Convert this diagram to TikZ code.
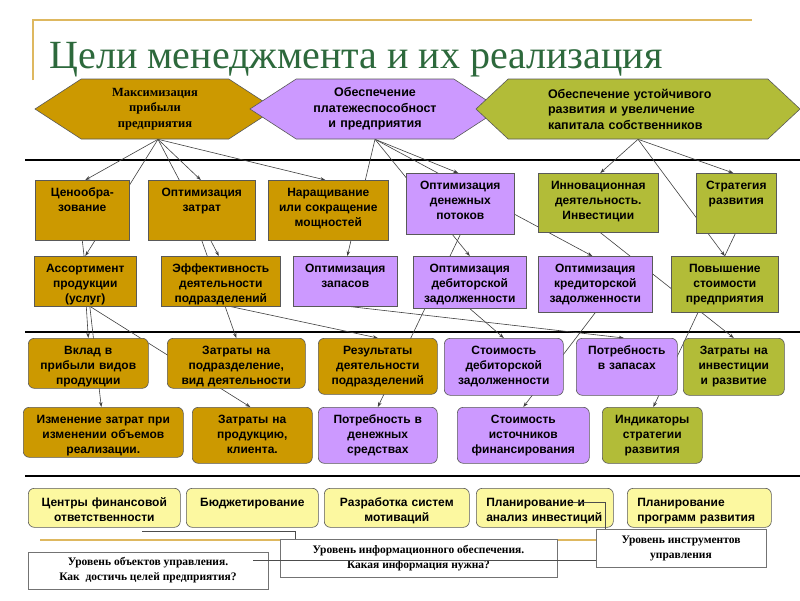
\documentclass[tikz,border=0pt]{standalone}
\usepackage{fontspec}
\setmainfont{Liberation Sans}
\newfontfamily\serifru{Liberation Serif}
\usetikzlibrary{shapes.symbols,arrows.meta}
\definecolor{goldc}{RGB}{204,153,0}
\definecolor{lilacc}{RGB}{204,153,255}
\definecolor{olivec}{RGB}{178,188,56}
\definecolor{palec}{RGB}{252,248,160}
\definecolor{titlec}{RGB}{45,105,60}
\definecolor{tanc}{RGB}{222,184,96}
\pgfdeclarelayer{bg}
\pgfsetlayers{bg,main}

\begin{document}
\begin{tikzpicture}[x=1pt,y=-1pt,
box/.style={draw=black!65, line width=0.6pt, anchor=north west, inner xsep=2pt, inner ysep=4pt, align=center, text height=12pt, font=\bfseries\fontsize{12}{15}\selectfont},
bx/.style 2 args={text width=#1, text depth=#2},
gbox/.style={box, fill=goldc},
pbox/.style={box, fill=lilacc},
obox/.style={box, fill=olivec},
rnd/.style={rounded corners=6pt},
ybox/.style={box, rnd, fill=palec, text height=14pt},
hexa/.style={shape=signal, signal to=east and west, draw=black!65, line width=0.6pt, minimum height=60pt, align=center, font=\bfseries\fontsize{12.5}{15.5}\selectfont},
link/.style={draw=black!75, line width=0.6pt, -{Stealth[length=5pt,width=3.5pt]}},
divider/.style={line width=1.2pt},
note/.style={draw=black!55, line width=0.8pt, fill=white, align=center, font=\serifru\bfseries\fontsize{11.5}{15}\selectfont},
lead/.style={draw=black!70, line width=0.6pt}]
\begin{pgfonlayer}{bg}
\fill[white] (0,0) rectangle (800,600);
\end{pgfonlayer}
\useasboundingbox (0,0) rectangle (800,600);

% title
\draw[tanc, line width=1.5pt] (33,80) -- (33,20) -- (752,20);
\node[anchor=base west, text=titlec, font=\serifru\fontsize{40}{40}\selectfont] (title) at (46,68) {Цели менеджмента и их реализация};

% goals
\node[hexa, fill=goldc, signal pointer angle=66, minimum width=240pt, text width=120pt, font=\serifru\bfseries\fontsize{12.5}{15.5}\selectfont] (h1) at (155,109) {Максимизация\\прибыли\\предприятия};
\node[hexa, fill=lilacc, signal pointer angle=66, minimum width=250pt, text width=130pt] (h2) at (375,109) {Обеспечение\\платежеспособност\\и предприятия};
\node[hexa, fill=olivec, signal pointer angle=86, minimum width=324pt, text width=180pt, align=left] (h3) at (638,109) {Обеспечение устойчивого\\развития и увеличение\\капитала собственников};

% row 1
\node[gbox, bx={90pt}{40pt}] (r1a) at (35,180) {Ценообра-\\зование};
\node[gbox, bx={103pt}{40pt}] (r1b) at (148,180) {Оптимизация\\затрат};
\node[gbox, bx={116pt}{40pt}] (r1c) at (268,180) {Наращивание\\или сокращение\\мощностей};
\node[pbox, bx={104pt}{41pt}] (r1d) at (406,173) {Оптимизация\\денежных\\потоков};
\node[obox, bx={116pt}{39pt}] (r1e) at (538,173) {Инновационная\\деятельность.\\Инвестиции};
\node[obox, bx={76pt}{40pt}] (r1f) at (696,173) {Стратегия\\развития};

% row 2
\node[gbox, bx={98pt}{30pt}] (r2a) at (34,256) {Ассортимент\\продукции\\(услуг)};
\node[gbox, bx={115pt}{30pt}] (r2b) at (161,256) {Эффективность\\деятельности\\подразделений};
\node[pbox, bx={100pt}{30pt}] (r2c) at (293,256) {Оптимизация\\запасов};
\node[pbox, bx={109pt}{32pt}] (r2d) at (413,256) {Оптимизация\\дебиторской\\задолженности};
\node[pbox, bx={110pt}{36pt}] (r2e) at (538,256) {Оптимизация\\кредиторской\\задолженности};
\node[obox, bx={103pt}{36pt}] (r2f) at (671,256) {Повышение\\стоимости\\предприятия};

% row 3
\node[gbox, rnd, bx={116pt}{30pt}] (r3a) at (28,338) {Вклад в\\прибыли видов\\продукции};
\node[gbox, rnd, bx={134pt}{30pt}] (r3b) at (167,338) {Затраты на\\подразделение,\\вид деятельности};
\node[gbox, rnd, bx={115pt}{36pt}] (r3c) at (318,338) {Результаты\\деятельности\\подразделений};
\node[pbox, rnd, bx={115pt}{37pt}] (r3d) at (444,338) {Стоимость\\дебиторской\\задолженности};
\node[pbox, rnd, bx={97pt}{37pt}] (r3e) at (576,338) {Потребность\\в запасах};
\node[obox, rnd, bx={97pt}{37pt}] (r3f) at (683,338) {Затраты на\\инвестиции\\и развитие};

% row 4
\node[gbox, rnd, bx={156pt}{30pt}] (r4a) at (23,407) {Изменение затрат при\\изменении объемов\\реализации.};
\node[gbox, rnd, bx={116pt}{36pt}] (r4b) at (192,407) {Затраты на\\продукцию,\\клиента.};
\node[pbox, rnd, bx={115pt}{36pt}] (r4c) at (318,407) {Потребность в\\денежных\\средствах};
\node[pbox, rnd, bx={128pt}{36pt}] (r4d) at (457,407) {Стоимость\\источников\\финансирования};
\node[obox, rnd, bx={96pt}{36pt}] (r4e) at (602,407) {Индикаторы\\стратегии\\развития};

% tools
\node[ybox, bx={148pt}{17pt}] (b1) at (28,488) {Центры финансовой\\ответственности};
\node[ybox, bx={128pt}{17pt}] (b2) at (186,488) {Бюджетирование};
\node[ybox, bx={141pt}{17pt}] (b3) at (324,488) {Разработка систем\\мотиваций};
\node[ybox, bx={117pt}{17pt}, inner xsep=10pt, align=left] (b4) at (476,488) {Планирование и\\анализ инвестиций};
\node[ybox, bx={124pt}{17pt}, inner xsep=10pt, align=left] (b5) at (627,488) {Планирование\\программ развития};

% levels
\draw[tanc, line width=1.5pt] (40,540) -- (597,540);
\node[note, minimum width=240pt, minimum height=37pt] (L1) at (148,570.5) {Уровень объектов управления.\\Как\ \ достичь целей предприятия?};
\node[note, minimum width=277pt, minimum height=38pt] (L2) at (418.5,558) {Уровень информационного обеспечения.\\Какая информация нужна?};
\node[note, minimum width=170pt, minimum height=38pt] (L3) at (681,548) {Уровень инструментов\\управления};
\coordinate (l1end) at (253,560);
\coordinate (l2end) at (142,531);
\coordinate (l3end) at (573,502);
\draw[lead] (l1end) -- (L3.west |- l1end);
\draw[lead] ([xshift=16pt]L2.north west) |- (l2end);
\draw[lead] ([xshift=10pt]L3.north west) |- (l3end);

\begin{pgfonlayer}{bg}
\foreach \y in {160,332,476}
  \draw[divider] (25,\y) -- (800,\y);
\foreach \a/\sa/\b/\sb in {h1/3/r1a/3, h1/3/r2a/0, h1/3/r1b/-1, h1/3/r2b/-2, h1/3/r1c/-3,
  h2/0/r2c/2, h2/0/r1d/-2, h2/0/r2d/0, h2/0/r2e/-3,
  h3/0/r1e/2, h3/0/r1f/-3, h3/0/r2f/0,
  r1a/0/r4a/-2, r1b/0/r3b/0, r1d/0/r4c/0, r1e/2/r3f/0, r1f/-1/r4e/1,
  r2a/1/r3a/0, r2a/5/r4b/-2, r2b/10/r3c/0, r2c/5/r3e/-3, r2d/0/r3d/0, r2e/0/r4d/0}
  \draw[link] ([xshift=\sa pt]\a.south) -- ([xshift=\sb pt]\b.north);
\end{pgfonlayer}
\end{tikzpicture}
\end{document}
